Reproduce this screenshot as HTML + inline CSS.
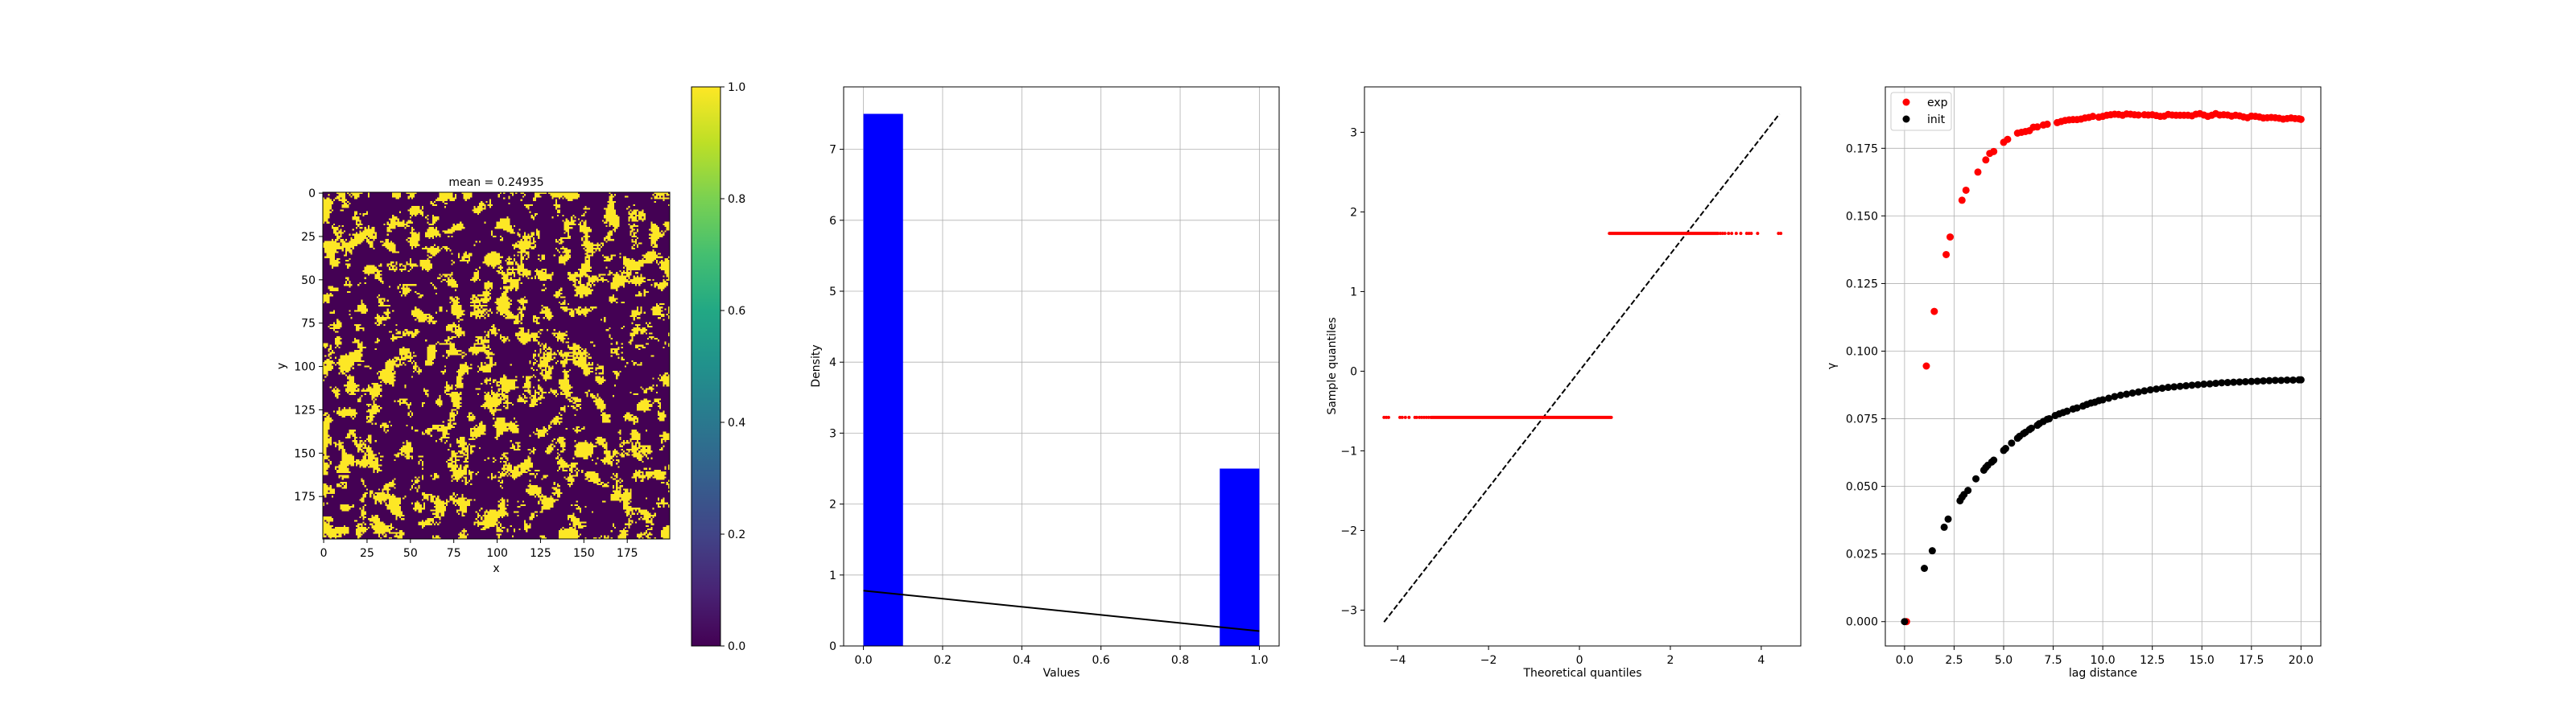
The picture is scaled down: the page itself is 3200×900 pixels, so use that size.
<!DOCTYPE html>
<html><head><meta charset="utf-8">
<style>
html,body{margin:0;padding:0;background:#fff;}
#wrap{position:relative;width:3200px;height:900px;overflow:hidden;}
svg{position:absolute;left:0;top:0;}
text{font-family:"DejaVu Sans","Liberation Sans",sans-serif;font-size:14px;fill:#000;}
#field{position:absolute;left:401px;top:239px;width:431px;height:431px;image-rendering:pixelated;}
</style></head>
<body>
<div id="wrap">
<canvas id="field" width="200" height="200"></canvas>
<svg id="svg" width="3200" height="900" xmlns="http://www.w3.org/2000/svg">
<defs>
<linearGradient id="viridis" x1="0" y1="1" x2="0" y2="0">
<stop offset="0" stop-color="#440154"/><stop offset="0.1" stop-color="#482475"/><stop offset="0.2" stop-color="#414487"/><stop offset="0.3" stop-color="#355f8d"/><stop offset="0.4" stop-color="#2a788e"/><stop offset="0.5" stop-color="#21918c"/><stop offset="0.6" stop-color="#22a884"/><stop offset="0.7" stop-color="#44bf70"/><stop offset="0.8" stop-color="#7ad151"/><stop offset="0.9" stop-color="#bddf26"/><stop offset="1" stop-color="#fde725"/>
</linearGradient>
</defs>
</svg>
</div>
<script>
// ---------- data ----------
const fieldMean = 0.24935;
const fieldTicks = [0,25,50,75,100,125,150,175];
const cbarTicks = [0.0,0.2,0.4,0.6,0.8,1.0];

const histEdges = [0,0.1,0.2,0.3,0.4,0.5,0.6,0.7,0.8,0.9,1.0];
const histDensity = [7.5,0,0,0,0,0,0,0,0,2.5];
const histLineX = [0,1];
const histLineY = [0.78,0.21];
const histXTicks = [0.0,0.2,0.4,0.6,0.8,1.0];
const histYTicks = [0,1,2,3,4,5,6,7];

const qqLineX = [-4.3,4.4];
const qqLineY = [-3.15,3.23];
const qqLowLevel = -0.58;
const qqHighLevel = 1.73;
const qqLowPointsX = [-4.3,-4.25,-4.2,-3.95,-3.9,-3.83,-3.75,-3.62,-3.58,-3.52,-3.47,-3.42,-3.37,-3.32,-3.27];
const qqLowRun = [-3.25,0.7];
const qqHighRun = [0.66,3.05];
const qqHighPointsX = [3.1,3.15,3.2,3.28,3.35,3.45,3.55,3.68,3.73,3.78,3.92,4.38,4.43];
const qqXTicks = [-4,-2,0,2,4];
const qqYTicks = [-3,-2,-1,0,1,2,3];

const vgExpX = [0.1,1.1,1.5,2.1,2.3,2.9,3.1,3.7,4.1,4.3,4.5,5.0,5.2,5.7,5.9,6.1,6.3,6.5,6.7,7.0,7.2,7.7,7.9,8.1,8.3,8.5,8.7,8.9,9.1,9.3,9.5,9.8,10.0,10.2,10.4,10.6,10.8,11.0,11.2,11.4,11.6,11.8,12.1,12.3,12.5,12.7,12.9,13.1,13.3,13.5,13.7,13.9,14.1,14.3,14.5,14.7,14.9,15.1,15.3,15.5,15.7,15.9,16.1,16.3,16.5,16.7,16.9,17.1,17.3,17.5,17.7,17.9,18.1,18.3,18.5,18.7,18.9,19.1,19.3,19.5,19.7,19.9,20.0];
const vgExpY = [0.0,0.0945,0.1147,0.1357,0.1422,0.1558,0.1595,0.1662,0.1707,0.1731,0.1738,0.1772,0.1783,0.1806,0.1809,0.1812,0.1815,0.1828,0.1829,0.1836,0.1839,0.1845,0.1849,0.1853,0.1855,0.1856,0.1856,0.1858,0.1862,0.1864,0.1868,0.1865,0.1868,0.1872,0.1874,0.1876,0.1875,0.1872,0.1877,0.1876,0.1874,0.1873,0.1874,0.1873,0.1874,0.1871,0.1868,0.1869,0.1875,0.1873,0.1872,0.1872,0.1872,0.1872,0.1870,0.1876,0.1878,0.1873,0.1868,0.1872,0.1878,0.1873,0.1874,0.1873,0.1869,0.1872,0.1870,0.1866,0.1863,0.1869,0.1868,0.1866,0.1862,0.1863,0.1864,0.1863,0.1861,0.1858,0.1860,0.1862,0.1860,0.1859,0.1857];
const vgInitX = [0.0,1.0,1.4,2.0,2.2,2.8,2.9,3.0,3.2,3.6,4.0,4.1,4.2,4.4,4.5,5.0,5.1,5.4,5.7,5.8,6.0,6.1,6.3,6.4,6.7,6.8,7.0,7.2,7.3,7.6,7.8,8.0,8.2,8.5,8.7,9.0,9.2,9.4,9.6,9.8,10.0,10.3,10.6,10.9,11.2,11.5,11.8,12.1,12.4,12.7,13.0,13.3,13.6,13.9,14.2,14.5,14.8,15.1,15.4,15.7,16.0,16.3,16.6,16.9,17.2,17.5,17.8,18.1,18.4,18.7,19.0,19.3,19.6,19.9,20.0];
const vgInitY = [0.0,0.0197,0.0262,0.0349,0.0379,0.0447,0.0460,0.0470,0.0485,0.0528,0.0560,0.0570,0.0578,0.0590,0.0597,0.0633,0.0640,0.0660,0.0678,0.0685,0.0695,0.0700,0.0710,0.0715,0.0726,0.0732,0.0740,0.0748,0.0750,0.0762,0.0768,0.0773,0.0778,0.0786,0.0790,0.0797,0.0803,0.0808,0.0811,0.0817,0.0820,0.0826,0.0832,0.0837,0.0841,0.0845,0.0849,0.0853,0.0857,0.0860,0.0863,0.0866,0.0868,0.0870,0.0872,0.0874,0.0876,0.0878,0.0879,0.0881,0.0883,0.0884,0.0885,0.0886,0.0887,0.0888,0.0889,0.0890,0.0891,0.0892,0.0892,0.0893,0.0893,0.0894,0.0894];
const vgXTicks = [0.0,2.5,5.0,7.5,10.0,12.5,15.0,17.5,20.0];
const vgYTicks = [0.000,0.025,0.050,0.075,0.100,0.125,0.150,0.175];
const vgSeriesNames = ['exp','init'];

// ---------- helpers ----------
const svg = document.getElementById('svg');
const NS = 'http://www.w3.org/2000/svg';
function el(tag, attrs, parent){
  const e = document.createElementNS(NS, tag);
  for (const k in attrs) e.setAttribute(k, attrs[k]);
  (parent||svg).appendChild(e);
  return e;
}
function txt(s, x, y, anchor, parent, extra){
  const t = el('text', Object.assign({x:x, y:y, 'text-anchor':anchor||'middle'}, extra||{}), parent);
  t.textContent = s;
  return t;
}
function lin(d0,d1,p0,p1){ return v => p0 + (v-d0)/(d1-d0)*(p1-p0); }

function makeAxes(name, L, T, R, B, sx, sy, xt, yt, xfmt, yfmt, grid){
  const g = el('g', {});
  
  
  if (grid){
    xt.forEach(v => { const l = el('line',{x1:sx(v),x2:sx(v),y1:T,y2:B,stroke:'#b0b0b0','stroke-width':0.8},g);   });
    yt.forEach(v => { const l = el('line',{x1:L,x2:R,y1:sy(v),y2:sy(v),stroke:'#b0b0b0','stroke-width':0.8},g);   });
  }
  const marks = el('g', {}, g);
  
  
  const frame = el('g', {}, svg);
  
  
  el('rect',{x:L,y:T,width:R-L,height:B-T,fill:'none',stroke:'#000','stroke-width':1},frame);
  xt.forEach(v => {
    el('line',{x1:sx(v),x2:sx(v),y1:B,y2:B+5,stroke:'#000','stroke-width':1},frame);
    const t = txt(xfmt(v), sx(v), B+22, 'middle', frame);
    
    
  });
  yt.forEach(v => {
    el('line',{x1:L-5,x2:L,y1:sy(v),y2:sy(v),stroke:'#000','stroke-width':1},frame);
    const t = txt(yfmt(v), L-9, sy(v)+5, 'end', frame);
    
    
  });
  return marks;
}
function fmtMinus(s){ return s.replace('-', '\u2212'); }

// ---------- panel 1: field ----------
(function(){
  // texture only: lightly smoothed noise thresholded to the reported mean
  const N = 200, cv = document.getElementById('field'), ctx = cv.getContext('2d');
  let seed = 12345; const rnd = () => (seed = (seed*1664525 + 1013904223) >>> 0) / 4294967296;
  const base = new Float32Array(N*N); for (let i=0;i<N*N;i++) base[i]=rnd();
  let a = base;
  for (let pass=0; pass<2; pass++){
    const b = new Float32Array(N*N);
    for (let y=0;y<N;y++) for (let x=0;x<N;x++){
      let s=0,c=0; for (let dy=-2;dy<=2;dy++) for (let dx=-2;dx<=2;dx++){ const yy=y+dy, xx=x+dx; if(yy>=0&&yy<N&&xx>=0&&xx<N){s+=a[yy*N+xx];c++;} }
      b[y*N+x]=s/c;
    }
    a=b;
  }
  const f = new Float32Array(N*N);
  for (let i=0;i<N*N;i++) f[i] = a[i] + 0.045*(base[i]-0.5) + 0.03*(rnd()-0.5);
  const sorted = Array.from(f).sort((p,q)=>p-q);
  const thr = sorted[Math.floor(N*N*(1-fieldMean))];
  const img = ctx.createImageData(N,N);
  for (let i=0;i<N*N;i++){ const on=f[i]>thr; img.data[i*4]=on?253:68; img.data[i*4+1]=on?231:1; img.data[i*4+2]=on?37:84; img.data[i*4+3]=255; }
  ctx.putImageData(img,0,0);
  const L=401,T=239,R=832,B=670;
  const sx = lin(-0.5,199.5,L,R), sy = lin(-0.5,199.5,T,B);
  makeAxes('field-axes',L,T,R,B,sx,sy,fieldTicks,fieldTicks,String,String,false);
  const tt = txt('mean = ' + fieldMean, (L+R)/2, 231, 'middle', svg, {'font-size':'17'});
   
  const xl = txt('x', (L+R)/2, 711, 'middle');  
  const yl = txt('y', 0, 0, 'middle', svg, {transform:'translate(354,455) rotate(-90)'});  
  // colorbar
  const cL=859,cR=895,cT=108,cB=803, cy=lin(0,1,cB,cT);
  const cb = el('rect',{x:cL,y:cT,width:cR-cL,height:cB-cT,fill:'url(#viridis)',stroke:'#000','stroke-width':1});
   
  cbarTicks.forEach(v=>{ el('line',{x1:cR,x2:cR+5,y1:cy(v),y2:cy(v),stroke:'#000'}); const t=txt(v.toFixed(1),cR+9,cy(v)+5,'start');   });
})();

// ---------- panel 2: histogram ----------
(function(){
  const L=1048,T=108,R=1589,B=803;
  const sx = lin(-0.05,1.05,L,R), sy = lin(0,7.88,B,T);
  const m = makeAxes('histogram-axes',L,T,R,B,sx,sy,histXTicks,histYTicks,v=>v.toFixed(1),String,true);
  histDensity.forEach((d,i)=>{
    if (d<=0) return;
    const r = el('rect',{x:sx(histEdges[i]),y:sy(d),width:sx(histEdges[i+1])-sx(histEdges[i]),height:sy(0)-sy(d),fill:'#0000ff'},m);
     
  });
  const pl = el('polyline',{points:histLineX.map((x,i)=>sx(x)+','+sy(histLineY[i])).join(' '),fill:'none',stroke:'#000','stroke-width':2},m);
   
  const xl = txt('Values',(L+R)/2,841);  
  const yl = txt('Density',0,0,'middle',svg,{transform:'translate(1018,455) rotate(-90)'});  
})();

// ---------- panel 3: QQ plot ----------
(function(){
  const L=1695,T=108,R=2237,B=803;
  const sx = lin(-4.73,4.87,L,R), sy = lin(-3.45,3.57,B,T);
  const m = makeAxes('qq-axes',L,T,R,B,sx,sy,qqXTicks,qqYTicks,v=>fmtMinus(String(v)),v=>fmtMinus(String(v)),false);
  const ln = el('line',{x1:sx(qqLineX[0]),y1:sy(qqLineY[0]),x2:sx(qqLineX[1]),y2:sy(qqLineY[1]),stroke:'#000','stroke-width':2,'stroke-dasharray':'7,3'},m);
   
  [[qqLowRun,qqLowLevel],[qqHighRun,qqHighLevel]].forEach(([run,lev])=>{
    const r = el('line',{x1:sx(run[0]),x2:sx(run[1]),y1:sy(lev),y2:sy(lev),stroke:'#ff0000','stroke-width':4,'stroke-linecap':'round'},m);
     
  });
  qqLowPointsX.forEach(x=>{ const c=el('circle',{cx:sx(x),cy:sy(qqLowLevel),r:2,fill:'#ff0000'},m);   });
  qqHighPointsX.forEach(x=>{ const c=el('circle',{cx:sx(x),cy:sy(qqHighLevel),r:2,fill:'#ff0000'},m);   });
  const xl = txt('Theoretical quantiles',(L+R)/2,841);  
  const yl = txt('Sample quantiles',0,0,'middle',svg,{transform:'translate(1659,455) rotate(-90)'});  
})();

// ---------- panel 4: variogram ----------
(function(){
  const L=2342,T=108,R=2883,B=803;
  const sx = lin(-0.97,21.0,L,R), sy = lin(-0.009,0.1977,B,T);
  const m = makeAxes('variogram-axes',L,T,R,B,sx,sy,vgXTicks,vgYTicks,v=>v.toFixed(1),v=>v.toFixed(3),true);
  vgExpX.forEach((x,i)=>{ const c=el('circle',{cx:sx(x),cy:sy(vgExpY[i]),r:4.5,fill:'#ff0000'},m);   });
  vgInitX.forEach((x,i)=>{ const c=el('circle',{cx:sx(x),cy:sy(vgInitY[i]),r:4.5,fill:'#000000'},m);   });
  const lg = el('g',{});
   
  el('rect',{x:2349,y:115,width:75,height:47,rx:3,fill:'#fff','fill-opacity':0.8,stroke:'#cccccc'},lg);
  const cols=['#ff0000','#000000'];
  vgSeriesNames.forEach((n,i)=>{
    const e = el('g',{},lg);
     
    el('circle',{cx:2368,cy:127+i*21,r:4.5,fill:cols[i]},e);
    txt(n,2394,132+i*21,'start',e);
  });
  const xl = txt('lag distance',(L+R)/2,841);  
  const yl = txt('γ',0,0,'middle',svg,{transform:'translate(2280,455) rotate(-90)'});  
})();
</script>
</body></html>
